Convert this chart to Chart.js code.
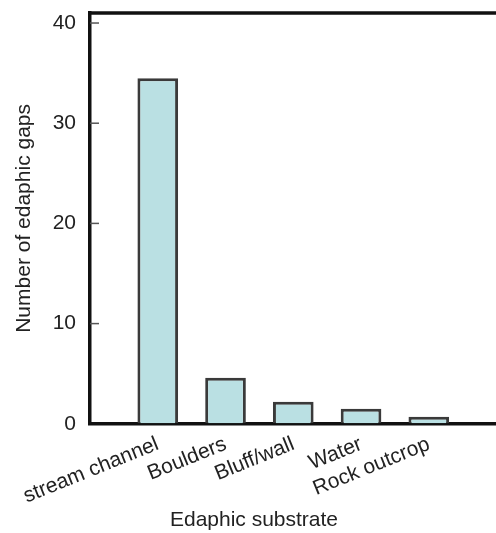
<!DOCTYPE html>
<html>
<head>
<meta charset="utf-8">
<script src="https://cdn.jsdelivr.net/npm/chart.js@4"></script>
<style>
  html, body { margin: 0; padding: 0; background: #fff; overflow: hidden; }
  #wrap { position: relative; width: 514px; height: 533px; }
</style>
</head>
<body>
<div id="wrap"><canvas id="chart"></canvas></div>
<script>
// ─── Data ────────────────────────────────────────────────────────────────────
const categories = ['stream channel', 'Boulders', 'Bluff/wall', 'Water', 'Rock outcrop'];
const gapCounts  = [34.5, 4.6, 2.2, 1.5, 0.7];
const yTicks     = [0, 10, 20, 30, 40];
const yTitle     = 'Number of edaphic gaps';
const xTitle     = 'Edaphic substrate';

// ─── Look ────────────────────────────────────────────────────────────────────
const FONT = { family: '"Liberation Sans", Arial, Helvetica, sans-serif', size: 21, weight: 'normal' };
const INK  = '#222';
const AXIS = '#111';

Chart.defaults.font.family = FONT.family;

// top frame line + short inward ticks on the y axis
const frame = {
  id: 'frame',
  afterDraw(chart) {
    const { ctx, chartArea: a, scales: { y } } = chart;
    ctx.save();
    ctx.strokeStyle = AXIS;
    ctx.lineWidth = 3.5;
    ctx.beginPath();
    ctx.moveTo(a.left - 1.75, a.top);
    ctx.lineTo(chart.width, a.top);
    ctx.stroke();

    ctx.strokeStyle = '#555';
    ctx.lineWidth = 1.5;
    y.ticks.forEach(t => {
      if (!t.value) return;
      const py = y.getPixelForValue(t.value);
      ctx.beginPath();
      ctx.moveTo(a.left, py);
      ctx.lineTo(a.left + 9, py);
      ctx.stroke();
    });
    ctx.restore();
  },
};

// one empty slot either side so the bars sit where the original puts them
const labels = ['', ...categories, ''];
const values = [null, ...gapCounts, null];

new Chart(document.getElementById('chart'), {
  type: 'bar',
  data: {
    labels,
    datasets: [{
      data: values,
      backgroundColor: '#bae0e3',
      borderColor: '#3a3a3a',
      borderWidth: 3,
      barPercentage: 0.6,
      categoryPercentage: 1,
    }],
  },
  options: {
    responsive: true,
    maintainAspectRatio: false,
    animation: false,
    layout: { padding: { top: 13, left: 2, right: 8, bottom: 0 } },
    plugins: {
      legend: { display: false },
      tooltip: { enabled: false },
      title: {
        display: true,
        position: 'bottom',
        text: xTitle,
        color: INK,
        font: FONT,
        padding: 0,
      },
    },
    scales: {
      x: {
        z: 1,
        offset: false,
        grid: { display: true, drawOnChartArea: false, drawTicks: false },
        border: { color: AXIS, width: 3.5 },
        ticks: { autoSkip: false, minRotation: 22, maxRotation: 22, padding: 8, color: INK, font: FONT },
        afterFit: s => { s.height = 84; },
      },
      y: {
        z: 1,
        min: 0,
        max: 41,
        afterBuildTicks: s => { s.ticks = yTicks.map(v => ({ value: v })); },
        grid: { display: true, drawOnChartArea: false, drawTicks: false },
        border: { color: AXIS, width: 3.5 },
        ticks: { padding: 14, color: INK, font: FONT },
        title: { display: true, text: yTitle, color: INK, font: FONT, padding: { top: 10, bottom: 0 } },
        // fixed width, and no extra room reserved above the plot for the top label
        afterFit: s => { s.width = 88; s.paddingTop = 0; s.paddingBottom = 0; },
      },
    },
  },
  plugins: [frame],
});
</script>
</body>
</html>
